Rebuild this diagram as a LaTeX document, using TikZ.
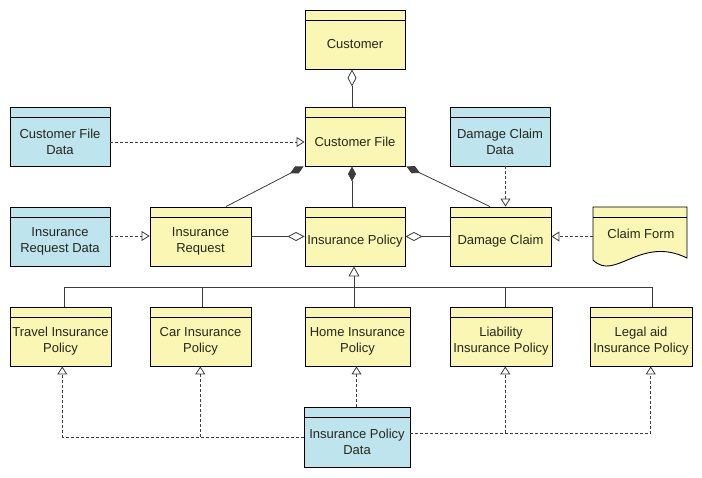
\documentclass[tikz,border=0pt]{standalone}
\usepackage{fontspec}
\setmainfont{Liberation Sans}
\usetikzlibrary{arrows.meta}
\definecolor{ylw}{RGB}{250,246,180}
\definecolor{blu}{RGB}{190,228,238}
\definecolor{ink}{RGB}{38,38,28}
\definecolor{wire}{RGB}{60,60,60}
\tikzset{
  box/.style={draw=black, line width=0.9pt, rectangle, inner sep=0pt, minimum height=59pt,
    path picture={\draw[line width=0.9pt] ([yshift=-10pt]path picture bounding box.north west) -- ([yshift=-10pt]path picture bounding box.north east);}},
  txt/.style={inner sep=0pt, align=center, text=ink, font=\fontsize{13pt}{16pt}\selectfont},
  assoc/.style={draw=wire, line width=0.8pt},
  real/.style={draw=wire, line width=0.8pt, dash pattern=on 3pt off 2pt, -{Triangle[open,length=8pt,width=10pt]}},
  agg/.style={assoc, -{Diamond[open,length=17pt,width=9pt]}},
  comp/.style={assoc, -{Diamond[fill=wire,length=15pt,width=8pt]}},
  gen/.style={assoc, -{Triangle[open,length=10pt,width=11pt]}}
}
\newcommand\cbox[6]{%
  \node[box, fill=#5, minimum width=#4pt] (#1) at (#2,#3) {};
  \node[txt] (#1-t) at ([yshift=-5pt]#1.center) {#6};
}
\begin{document}
\begin{tikzpicture}[x=1pt,y=-1pt]
\useasboundingbox (0,0) rectangle (702,478);
% row 0
\cbox{cust}{355}{39.5}{100}{ylw}{Customer}
% row 1
\cbox{cfd}{60}{136.5}{100}{blu}{Customer File\\Data}
\cbox{cfile}{355}{136.5}{100}{ylw}{Customer File}
\cbox{dcd}{500}{136.5}{100}{blu}{Damage Claim\\Data}
% row 2
\cbox{ird}{60}{236.5}{100}{blu}{Insurance\\Request Data}
\cbox{ireq}{200.5}{236.5}{101}{ylw}{Insurance\\Request}
\cbox{ipol}{355}{236.5}{100}{ylw}{Insurance Policy}
\cbox{dclaim}{500.5}{236.5}{101}{ylw}{Damage Claim}
% claim form (document shape)
\node[inner sep=0pt, minimum width=94pt, minimum height=59pt] (cform) at (640,236.5) {};
\draw[line width=0.9pt, fill=ylw] (593,207) -- (687,207) -- (687,258)
  .. controls (640,235) and (615,282) .. (593,260) -- cycle;
\draw[line width=0.9pt] (593,217) -- (687,217);
\node[txt] (cform-t) at (641,233.5) {Claim Form};
% row 3
\cbox{travel}{60.5}{336.5}{101}{ylw}{Travel Insurance\\Policy}
\cbox{car}{200.5}{336.5}{101}{ylw}{Car Insurance\\Policy}
\cbox{home}{357.5}{336.5}{105}{ylw}{Home Insurance\\Policy}
\cbox{liab}{501}{336.5}{102}{ylw}{Liability\\Insurance Policy}
\cbox{legal}{641}{336.5}{102}{ylw}{Legal aid\\Insurance Policy}
% row 4
\node[box, fill=blu, minimum width=106pt, minimum height=60pt] (ipd) at (357,437) {};
\node[txt] (ipd-t) at ([yshift=-5pt]ipd.center) {Insurance Policy\\Data};

% aggregation Customer File -> Customer
\draw[agg] ([xshift=-3pt]cfile.north) -- ([xshift=-3pt]cust.south);
% realizations
\draw[real] ([yshift=-5.5pt]cfd.east) -- ([yshift=-5.5pt]cfile.west);
\draw[real] ([xshift=5.5pt]dcd.south) -- ([xshift=5pt]dclaim.north);
\draw[real] ([yshift=0.5pt]ird.east) -- ([yshift=0.5pt]ireq.west);
\draw[real] (cform.west) -- (dclaim.east);
% compositions to Customer File
\draw[comp] ([xshift=25.5pt]ireq.north) -- ([xshift=-1pt]cfile.south west);
\draw[comp] ([xshift=-3pt]ipol.north) -- ([xshift=-3pt]cfile.south);
\draw[comp] ([xshift=-10.5pt]dclaim.north) -- ([xshift=1pt]cfile.south east);
% aggregations to Insurance Policy
\draw[agg] (ireq.east) -- (ipol.west);
\draw[agg] (dclaim.west) -- (ipol.east);
% generalization tree
\coordinate (gb) at (354,287.3);
\draw[gen] (gb) -- ([xshift=-1pt]ipol.south);
\draw[assoc] ([xshift=3.8pt]travel.north) |- (gb) -| ([xshift=11.3pt]legal.north);
\draw[assoc] ([xshift=1.8pt]car.north) -- ([xshift=1.8pt]car.north |- gb);
\draw[assoc] ([xshift=-3.5pt]home.north) -- (gb);
\draw[assoc] ([xshift=4.3pt]liab.north) -- ([xshift=4.3pt]liab.north |- gb);
% insurance policy data realizations
\draw[real] ([xshift=-0.5pt]ipd.north) -- ([xshift=-0.5pt]ipd.north |- home.south);
\coordinate (lb) at (ipd.west);
\coordinate (rb) at ([yshift=3.7pt]ipd.east);
\draw[real] (lb) -| ([xshift=1.8pt]travel.south);
\draw[real] ([xshift=-0.2pt]car.south |- lb) -- ([xshift=-0.2pt]car.south);
\draw[real] (rb) -| ([xshift=9.7pt]legal.south);
\draw[real] ([xshift=4.3pt]liab.south |- rb) -- ([xshift=4.3pt]liab.south);
\end{tikzpicture}
\end{document}
